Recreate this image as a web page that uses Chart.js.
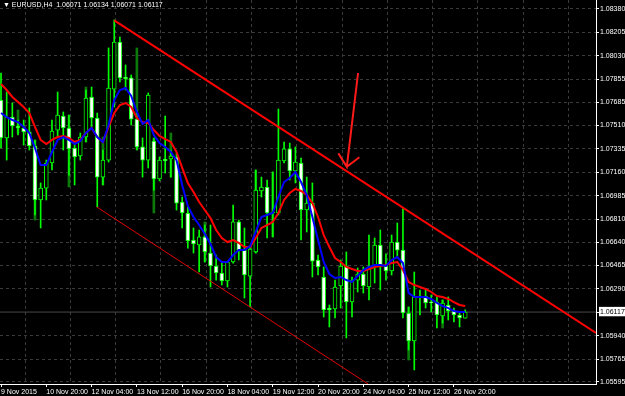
<!DOCTYPE html>
<html>
<head>
<meta charset="utf-8">
<script src="https://cdn.jsdelivr.net/npm/chart.js@4/dist/chart.umd.min.js"></script>
<style>
  html, body { margin: 0; padding: 0; background: #000; }
  #wrap { position: relative; width: 625px; height: 396px; }
  #hdr { position: absolute; left: 3px; top: 1px; color: #fff; font: 7px 'Liberation Sans', Arial, sans-serif; white-space: pre; }
</style>
</head>
<body>
<div id="wrap">
  <canvas id="chart" width="625" height="396"></canvas>
  <div id="hdr"></div>
</div>
<script>
// EURUSD H4, 9 Nov 2015 12:00 .. 26 Nov 2015 20:00 (bar index 0..82)
const symbol = "EURUSD,H4";

const opens = [1.07700,1.07417,1.07573,1.07506,1.07491,1.07462,1.07357,1.06954,1.07043,1.07230,
  1.07476,1.07581,1.07491,1.07342,1.07282,1.07424,1.07723,1.07566,1.07125,1.07252,
  1.07782,1.08133,1.07872,1.07865,1.07558,1.07350,1.07252,1.07394,1.07111,1.07260,
  1.07260,1.07275,1.06939,1.06857,1.06655,1.06618,1.06678,1.06558,1.06461,1.06409,
  1.06349,1.06491,1.06790,1.06580,1.06386,1.06566,1.07021,1.07051,1.06857,1.06857,
  1.07245,1.07335,1.07170,1.07230,1.06879,1.06931,1.06506,1.06379,1.06147,1.06140,
  1.06312,1.06461,1.06192,1.06356,1.06401,1.06304,1.06454,1.06618,1.06461,1.06424,
  1.06640,1.06580,1.06110,1.05901,1.06230,1.06237,1.06192,1.06192,1.06088,1.06170,
  1.06125,1.06095,1.06071];
const highs = [1.07902,1.07760,1.07678,1.07551,1.07551,1.07641,1.07402,1.07081,1.07252,1.07551,
  1.07760,1.07611,1.07588,1.07387,1.07454,1.07775,1.07797,1.07603,1.07327,1.08089,
  1.08298,1.08171,1.07962,1.07887,1.07626,1.07417,1.07753,1.07417,1.07275,1.07581,
  1.07327,1.07305,1.06976,1.06902,1.06745,1.06730,1.06767,1.06767,1.06543,1.06483,
  1.06491,1.06916,1.06804,1.06745,1.06603,1.07178,1.07125,1.07103,1.07163,1.07633,
  1.07387,1.07379,1.07350,1.07267,1.07125,1.07081,1.06543,1.06454,1.06170,1.06356,
  1.06506,1.06566,1.06379,1.06446,1.06454,1.06692,1.06670,1.06730,1.06551,1.06692,
  1.06782,1.06887,1.06155,1.06416,1.06282,1.06282,1.06245,1.06230,1.06207,1.06230,
  1.06147,1.06110,1.06134];
const lows = [1.07342,1.07252,1.07424,1.07439,1.07364,1.07327,1.06842,1.06745,1.06954,1.07178,
  1.07424,1.07327,1.07140,1.07066,1.07252,1.07387,1.07491,1.06902,1.07066,1.07237,
  1.07648,1.07835,1.07775,1.07514,1.07327,1.07125,1.07193,1.07028,1.07096,1.07155,
  1.07125,1.06879,1.06745,1.06595,1.06558,1.06416,1.06491,1.06304,1.06356,1.06319,
  1.06304,1.06483,1.06506,1.06222,1.06155,1.06558,1.06976,1.06670,1.06678,1.06842,
  1.07230,1.07103,1.07081,1.06655,1.06715,1.06379,1.06394,1.06080,1.06006,1.06073,
  1.06147,1.05924,1.06080,1.06267,1.06259,1.06207,1.06334,1.06282,1.06356,1.06394,
  1.06521,1.06073,1.05834,1.05685,1.06095,1.06147,1.06118,1.05998,1.06035,1.06058,
  1.06043,1.06006,1.06071];
const closes = [1.07417,1.07573,1.07506,1.07491,1.07462,1.07357,1.06954,1.07043,1.07230,1.07469,
  1.07588,1.07491,1.07335,1.07275,1.07424,1.07715,1.07566,1.07125,1.07252,1.07790,
  1.08133,1.07865,1.07857,1.07558,1.07350,1.07252,1.07738,1.07111,1.07252,1.07245,
  1.07282,1.06931,1.06857,1.06648,1.06625,1.06678,1.06566,1.06461,1.06409,1.06349,
  1.06491,1.06790,1.06580,1.06394,1.06588,1.07028,1.07051,1.06857,1.06864,1.07252,
  1.07335,1.07170,1.07237,1.06879,1.06931,1.06498,1.06454,1.06133,1.06133,1.06304,
  1.06461,1.06192,1.06356,1.06401,1.06312,1.06454,1.06618,1.06461,1.06424,1.06640,
  1.06580,1.06110,1.05901,1.06230,1.06237,1.06185,1.06185,1.06095,1.06185,1.06125,
  1.06095,1.06073,1.06117];

// moving averages (blue = fast, red = slow)
const maFast = [1.07603,1.07573,1.07551,1.07536,1.07499,1.07454,1.07342,1.07215,1.07215,1.07312,
  1.07402,1.07424,1.07402,1.07372,1.07394,1.07454,1.07491,1.07424,1.07387,1.07514,
  1.07700,1.07775,1.07790,1.07730,1.07611,1.07521,1.07551,1.07439,1.07379,1.07350,
  1.07312,1.07252,1.07066,1.06909,1.06827,1.06767,1.06700,1.06625,1.06528,1.06491,
  1.06491,1.06543,1.06580,1.06580,1.06610,1.06715,1.06827,1.06842,1.06857,1.06976,
  1.07088,1.07118,1.07163,1.07088,1.06991,1.06827,1.06655,1.06491,1.06401,1.06371,
  1.06379,1.06356,1.06342,1.06386,1.06431,1.06454,1.06468,1.06468,1.06461,1.06506,
  1.06528,1.06483,1.06259,1.06230,1.06230,1.06230,1.06215,1.06185,1.06162,1.06147,
  1.06125,1.06118,1.06118];
const maSlow = [1.07820,1.07775,1.07723,1.07685,1.07648,1.07603,1.07499,1.07402,1.07372,1.07402,
  1.07424,1.07432,1.07417,1.07387,1.07402,1.07454,1.07491,1.07424,1.07387,1.07499,
  1.07603,1.07663,1.07678,1.07648,1.07566,1.07536,1.07529,1.07476,1.07432,1.07409,
  1.07387,1.07312,1.07193,1.07081,1.07014,1.06939,1.06879,1.06819,1.06730,1.06670,
  1.06640,1.06655,1.06633,1.06603,1.06603,1.06670,1.06745,1.06767,1.06790,1.06857,
  1.06954,1.07006,1.07036,1.07021,1.06991,1.06931,1.06827,1.06692,1.06603,1.06521,
  1.06491,1.06454,1.06439,1.06424,1.06424,1.06439,1.06454,1.06461,1.06468,1.06483,
  1.06491,1.06431,1.06342,1.06319,1.06304,1.06289,1.06267,1.06237,1.06230,1.06215,
  1.06192,1.06170,1.06162];

// dark green ranges seen behind some bars: [index, high, low]
const darkBars = [[3,1.07626,1.07454],[6,1.07402,1.06804],[12,1.07588,1.07051],[15,1.07797,1.07387],
  [18,1.07424,1.07066],[24,1.08089,1.07327],[27,1.07417,1.06857],[30,1.07454,1.07125],
  [36,1.06790,1.06491],[45,1.07178,1.06558],[48,1.07163,1.06678],[72,1.06155,1.05759],[78,1.06207,1.05998]];

// drawn objects: [index, price]
const upperLine = [[20, 1.08295], [105.1, 1.05961]];
const lowerLine = [[16.9, 1.06902], [64.84, 1.05580]];
const arrowPts = [[63.07, 1.07902], [61.08, 1.07202], [59.59, 1.07302], [61.08, 1.07202], [63.30, 1.07273]];

const tickIdx = [0, 8, 16, 24, 32, 40, 48, 56, 64, 72, 80];
const tickText = ["9 Nov 2015", "10 Nov 20:00", "12 Nov 04:00", "13 Nov 12:00", "16 Nov 20:00",
  "18 Nov 04:00", "19 Nov 12:00", "20 Nov 20:00", "24 Nov 04:00", "25 Nov 12:00", "26 Nov 20:00"];
const yTicks = [1.08380, 1.08205, 1.08030, 1.07855, 1.07685, 1.07510, 1.07335, 1.07160, 1.06985,
  1.06810, 1.06640, 1.06465, 1.06290, 1.05940, 1.05765, 1.05595];

const X_MIN = -0.18, X_MAX = 105.1;
const Y_MIN = 1.05580, Y_MAX = 1.08447;

const n = closes.length;
const last = n - 1;
const lastClose = closes[last];

document.getElementById("hdr").textContent =
  "\u25BC " + symbol + "  " + [opens[last], highs[last], lows[last], closes[last]].map(v => v.toFixed(5)).join(" ");

const idx = closes.map((_, i) => i);
const pts = arr => arr.map(p => ({ x: p[0], y: p[1] }));

const FONT = { family: "'Liberation Sans', Arial, sans-serif", size: 7 };

// no extra room for first/last labels, the frame is fixed like in the terminal
const noPad = axis => { axis.paddingLeft = 0; axis.paddingRight = 0; axis.paddingTop = 0; axis.paddingBottom = 0; };

new Chart(document.getElementById("chart"), {
  type: "bar",
  data: {
    datasets: [
      {
        type: "line", order: 9,
        data: [{ x: X_MIN, y: lastClose }, { x: X_MAX, y: lastClose }],
        borderColor: "#4a4a4a", borderWidth: 1, pointRadius: 0
      },
      {
        order: 8, grouped: false, barThickness: 2,
        data: darkBars.map(d => ({ x: d[0], y: [d[2], d[1]] })),
        backgroundColor: "#0b7a0b"
      },
      {
        order: 7, grouped: false, barThickness: 1,
        data: idx.map(i => ({ x: i, y: [lows[i], highs[i]] })),
        backgroundColor: "#00ff00"
      },
      {
        order: 6, grouped: false, barThickness: 4,
        data: idx.map(i => ({ x: i, y: [opens[i], closes[i]] })),
        backgroundColor: idx.map(i => closes[i] < opens[i] ? "#ffffff" : "#000000"),
        borderColor: "#00ff00", borderWidth: 1, borderSkipped: false
      },
      {
        type: "line", order: 3,
        data: idx.map(i => ({ x: i, y: maSlow[i] })),
        borderColor: "#ff0000", borderWidth: 2, pointRadius: 0, tension: 0
      },
      {
        type: "line", order: 2,
        data: idx.map(i => ({ x: i, y: maFast[i] })),
        borderColor: "#0000ff", borderWidth: 2, pointRadius: 0, tension: 0
      },
      {
        type: "line", order: 1,
        data: pts(upperLine),
        borderColor: "#ff0000", borderWidth: 2, pointRadius: 0
      },
      {
        type: "line", order: 1,
        data: pts(lowerLine),
        borderColor: "#e00000", borderWidth: 1, pointRadius: 0
      },
      {
        type: "line", order: 0,
        data: pts(arrowPts),
        borderColor: "#ff1a1a", borderWidth: 2, pointRadius: 0, borderJoinStyle: "miter"
      }
    ]
  },
  options: {
    responsive: false,
    animation: false,
    devicePixelRatio: 1,
    layout: { padding: 0 },
    plugins: { legend: { display: false }, tooltip: { enabled: false } },
    scales: {
      x: {
        type: "linear", min: X_MIN, max: X_MAX, offset: false,
        afterBuildTicks: axis => { axis.ticks = tickIdx.map(v => ({ value: v })); },
        afterFit: axis => { axis.height = 12; noPad(axis); },
        ticks: {
          color: "#ffffff", font: FONT, align: "start", padding: 1,
          autoSkip: false, maxRotation: 0,
          callback: (v, i) => tickText[i]
        },
        grid: { color: "transparent", tickColor: "#ffffff", tickLength: 3, offset: false },
        border: { color: "#ffffff", width: 1 }
      },
      xg: {
        type: "linear", position: "bottom", min: X_MIN, max: X_MAX, offset: false,
        afterBuildTicks: axis => {
          const t = [];
          for (let v = 4.25; v < X_MAX; v += 8) t.push({ value: v });
          axis.ticks = t;
        },
        afterFit: axis => { axis.height = 0; noPad(axis); },
        ticks: { display: false },
        grid: { color: "#3a3a3a", drawTicks: false, offset: false },
        border: { display: false, dash: [3, 3] }
      },
      y: {
        type: "linear", position: "right", min: Y_MIN, max: Y_MAX,
        afterBuildTicks: axis => {
          axis.ticks = yTicks.concat([lastClose]).sort((a, b) => b - a).map(v => ({ value: v }));
        },
        afterFit: axis => { axis.width = 29; noPad(axis); },
        ticks: {
          font: FONT, padding: 1,
          color: c => c.tick && c.tick.value === lastClose ? "#000000" : "#ffffff",
          showLabelBackdrop: true,
          backdropColor: c => c.tick && c.tick.value === lastClose ? "#ffffff" : "rgba(0,0,0,0)",
          backdropPadding: { left: 1, right: 2, top: 1, bottom: 0 },
          callback: v => v.toFixed(5)
        },
        grid: {
          color: c => c.tick && c.tick.value === lastClose ? "rgba(0,0,0,0)" : "#3a3a3a",
          tickColor: "#ffffff", tickLength: 3
        },
        border: { color: "#ffffff", width: 1, dash: [3, 3] }
      }
    }
  }
});
</script>
</body>
</html>
